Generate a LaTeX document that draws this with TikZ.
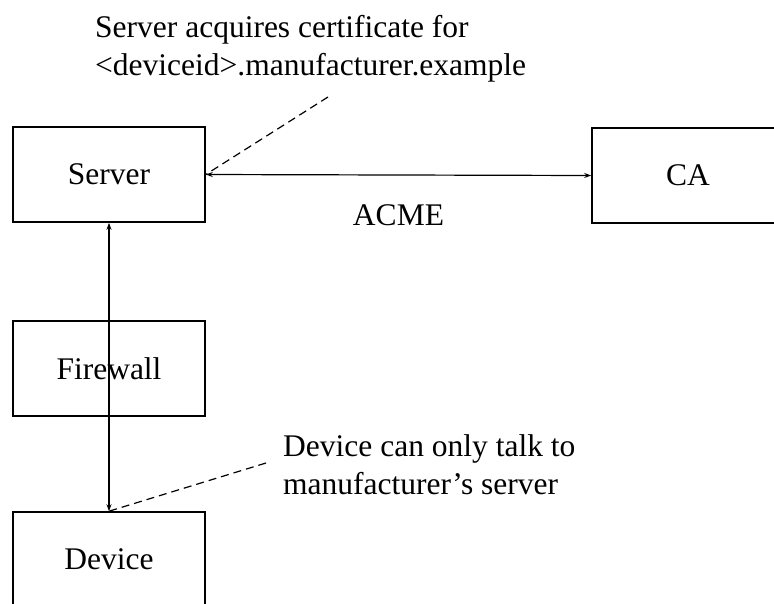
\documentclass[tikz,border=0pt]{standalone}
\usepackage{fontspec}
\setmainfont{Liberation Serif}
\usetikzlibrary{arrows.meta}
\begin{document}
\begin{tikzpicture}[x=1pt,y=-1pt,
  lbl/.style={font=\fontsize{31.5}{38}\selectfont},
  box/.style={draw,line width=1.6pt,minimum width=192pt,minimum height=95pt,inner sep=0pt,lbl},
  conn/.style={line width=1.2pt,{Stealth[length=7pt,width=5pt]}-{Stealth[length=7pt,width=5pt]}},
  note/.style={align=left,anchor=west,inner sep=0pt,lbl},
  lead/.style={line width=1.2pt,dash pattern=on 8pt off 5pt}]
\useasboundingbox (0,0) rectangle (774,603);
\node[box] (srv) at (109,174.5) {Server};
\node[box] (ca) at (688,175.5) {CA};
\node[box] (fw) at (109,368.5) {Firewall};
\node[box] (dev) at (109,559.5) {Device};
\draw[conn] (srv.east) -- node[pos=.5,yshift=-40pt,lbl] (acme) {ACME} (ca.west);
\draw[conn] (srv.south) -- (dev.north);
\node[note] (n1t) at (95,49) {Server acquires certificate for\\<deviceid>.manufacturer.example};
\node[note] (n2t) at (283,465) {Device can only talk to\\manufacturer’s server};
\coordinate (n1) at (328,97);
\coordinate (n2) at (266,463);
\draw[lead] (n1) -- (srv.east);
\draw[lead] (n2) -- (dev.north);
\end{tikzpicture}
\end{document}
